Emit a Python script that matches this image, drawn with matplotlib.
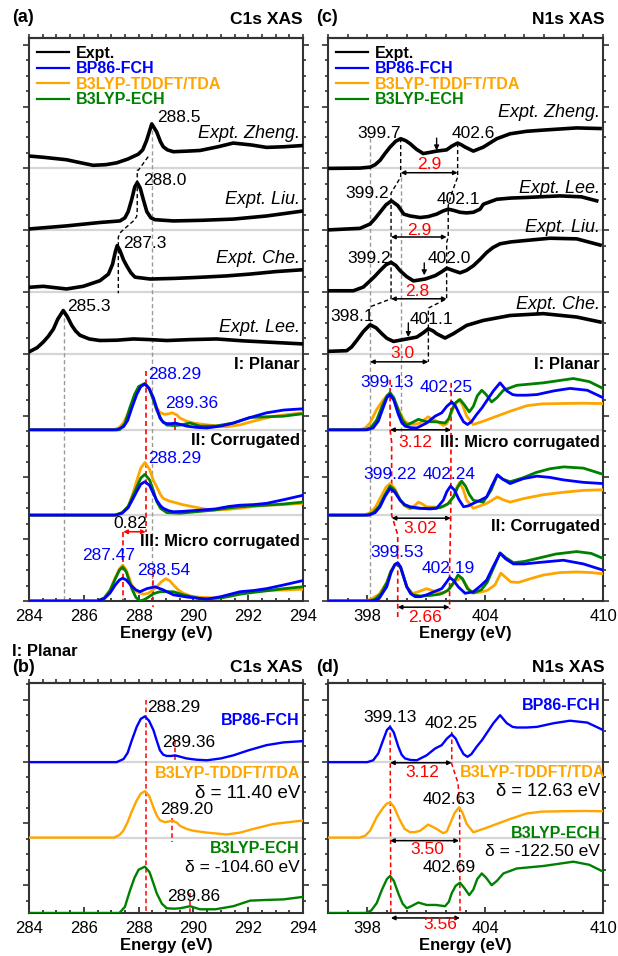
import matplotlib
matplotlib.use('Agg')
import matplotlib.pyplot as plt
import numpy as np
from matplotlib.ticker import MultipleLocator, FixedLocator
from matplotlib.lines import Line2D

plt.rcParams['font.family'] = ['Liberation Sans', 'DejaVu Sans']

BLUE = '#0000ff'
ORANGE = '#ffa500'
GREEN = '#008000'
RED = '#ff0000'
GRAY = '#9a9a9a'

# ---------------- C1s experimental spectra (energy eV, intensity a.u.)
c_zheng_e = [284.0, 284.52, 285.37, 285.9, 286.34, 286.8, 287.2, 287.6, 287.99, 288.15, 288.29, 288.48, 288.66,
             288.8, 288.9, 289.05, 289.27, 289.8, 290.24, 290.9, 291.45, 292.1, 292.67, 293.3, 293.98]
c_zheng_i = [0.20, 0.18, 0.14, 0.09, 0.05, 0.06, 0.09, 0.15, 0.23, 0.30, 0.45, 0.72, 0.59,
             0.43, 0.35, 0.30, 0.27, 0.28, 0.29, 0.35, 0.41, 0.38, 0.34, 0.35, 0.37]
c_liu_e = [284.0, 285.38, 286.59, 287.32, 287.5, 287.62, 287.75, 287.86, 287.95, 288.06, 288.17, 288.3, 288.45,
           288.6, 289.27, 290.3, 291.46, 292.67, 293.99]
c_liu_i = [0.02, 0.07, 0.125, 0.15, 0.2, 0.3, 0.5, 0.7, 0.77, 0.68, 0.5, 0.3, 0.2,
           0.17, 0.15, 0.16, 0.18, 0.23, 0.31]
c_che_e = [284.0, 284.52, 285.37, 285.98, 286.59, 286.9, 287.05, 287.15, 287.22, 287.32, 287.45, 287.57, 287.72,
           287.87, 288.42, 289.3, 290.24, 291.2, 292.07, 293.0, 293.99]
c_che_i = [0.076, 0.092, 0.049, 0.092, 0.183, 0.29, 0.45, 0.65, 0.75, 0.67, 0.52, 0.42, 0.31,
           0.24, 0.21, 0.22, 0.238, 0.26, 0.29, 0.33, 0.36]
c_lee_e = [284.0, 284.3, 284.52, 284.7, 284.89, 285.05, 285.25, 285.4, 285.56, 285.7, 285.86, 286.2, 286.59,
           287.2, 287.81, 288.4, 289.03, 289.9, 290.85, 291.8, 292.67, 293.99]
c_lee_i = [0.03, 0.1, 0.19, 0.28, 0.40, 0.56, 0.70, 0.6, 0.46, 0.37, 0.30, 0.24, 0.215,
           0.22, 0.24, 0.23, 0.215, 0.23, 0.24, 0.21, 0.19, 0.16]

# ---------------- C1s calculated, I: Planar
cp_fch_e = [284.0, 287.2, 287.45, 287.6, 287.75, 287.93, 288.08, 288.23, 288.38, 288.54, 288.66, 288.78, 288.9,
            289.03, 289.2, 289.33, 289.5, 289.75, 290.1, 290.49, 291.0, 291.46, 292.0, 292.67, 293.3, 293.99]
cp_fch_i = [0.0, 0.0, 0.05, 0.15, 0.35, 0.57, 0.70, 0.74, 0.67, 0.52, 0.35, 0.19, 0.12,
            0.10, 0.10, 0.11, 0.09, 0.06, 0.04, 0.03, 0.06, 0.11, 0.19, 0.275, 0.32, 0.34]
cp_tda_e = [284.0, 287.1, 287.3, 287.44, 287.6, 287.75, 287.93, 288.08, 288.23, 288.38, 288.54, 288.66, 288.78,
            288.95, 289.1, 289.23, 289.4, 289.51, 289.75, 290.0, 290.5, 291.21, 291.7, 292.19, 292.92, 293.5, 293.99]
cp_tda_i = [0.0, 0.0, 0.04, 0.11, 0.25, 0.42, 0.60, 0.71, 0.75, 0.68, 0.49, 0.36, 0.28,
            0.25, 0.26, 0.275, 0.24, 0.19, 0.14, 0.11, 0.08, 0.05, 0.08, 0.14, 0.22, 0.25, 0.275]
cp_ech_e = [284.0, 287.3, 287.5, 287.69, 287.85, 288.0, 288.23, 288.4, 288.54, 288.66, 288.85, 289.03, 289.3,
            289.51, 289.88, 290.24, 290.8, 291.46, 292.07, 292.6, 293.28, 293.99]
cp_ech_i = [0.0, 0.0, 0.1, 0.37, 0.57, 0.70, 0.75, 0.66, 0.48, 0.32, 0.15, 0.076, 0.07,
            0.076, 0.11, 0.06, 0.06, 0.11, 0.2, 0.21, 0.22, 0.26]

# ---------------- C1s calculated, II: Corrugated
cc_fch_e = [284.0, 287.15, 287.4, 287.62, 287.8, 287.93, 288.08, 288.23, 288.4, 288.55, 288.66, 288.8, 288.9,
            289.1, 289.27, 289.6, 290.24, 290.8, 291.3, 291.7, 292.2, 292.67, 293.3, 293.99]
cc_fch_i = [0.0, 0.0, 0.03, 0.12, 0.27, 0.38, 0.50, 0.54, 0.48, 0.34, 0.24, 0.15, 0.11,
            0.07, 0.054, 0.06, 0.08, 0.10, 0.14, 0.16, 0.17, 0.19, 0.25, 0.32]
cc_tda_e = [284.0, 287.15, 287.4, 287.62, 287.8, 287.93, 288.08, 288.23, 288.4, 288.55, 288.66, 288.8, 288.9,
            289.1, 289.27, 289.6, 289.99, 290.4, 290.72, 291.2, 291.7, 292.2, 292.67, 293.3, 293.99]
cc_tda_i = [0.0, 0.0, 0.04, 0.14, 0.36, 0.55, 0.76, 0.85, 0.74, 0.55, 0.46, 0.33, 0.27,
            0.23, 0.21, 0.17, 0.135, 0.10, 0.08, 0.09, 0.11, 0.14, 0.16, 0.17, 0.19]
cc_ech_e = [284.0, 287.15, 287.4, 287.62, 287.8, 287.93, 288.08, 288.23, 288.4, 288.55, 288.66, 288.8, 289.03,
            289.5, 290.0, 290.72, 291.2, 291.7, 292.2, 292.67, 293.3, 293.99]
cc_ech_i = [0.0, 0.0, 0.04, 0.14, 0.32, 0.45, 0.60, 0.66, 0.57, 0.38, 0.22, 0.11, 0.04,
            0.03, 0.05, 0.08, 0.11, 0.135, 0.15, 0.16, 0.18, 0.21]

# ---------------- C1s calculated, III: Micro corrugated
cm_fch_e = [284.0, 286.5, 286.75, 286.96, 287.15, 287.3, 287.42, 287.55, 287.75, 287.9, 288.05, 288.3, 288.6,
            288.9, 289.27, 289.75, 290.5, 291.0, 291.7, 292.2, 292.67, 293.3, 293.99]
cm_fch_i = [0.0, 0.0, 0.04, 0.13, 0.26, 0.34, 0.37, 0.34, 0.24, 0.18, 0.15, 0.20, 0.23,
            0.18, 0.10, 0.065, 0.03, 0.07, 0.15, 0.17, 0.20, 0.26, 0.33]
cm_tda_e = [284.0, 286.5, 286.75, 286.96, 287.15, 287.3, 287.42, 287.55, 287.75, 287.9, 288.05, 288.2, 288.35,
            288.5, 288.66, 288.83, 288.99, 289.13, 289.27, 289.45, 289.63, 289.9, 290.24, 290.8, 291.3, 291.7,
            292.2, 292.8, 293.4, 293.99]
cm_tda_i = [0.0, 0.0, 0.05, 0.18, 0.38, 0.52, 0.58, 0.50, 0.26, 0.16, 0.125, 0.11, 0.125,
            0.17, 0.23, 0.31, 0.36, 0.33, 0.26, 0.18, 0.125, 0.08, 0.06, 0.05, 0.07, 0.12,
            0.16, 0.17, 0.18, 0.19]
cm_ech_e = [284.0, 286.5, 286.75, 286.96, 287.15, 287.3, 287.42, 287.55, 287.75, 287.9, 288.05, 288.2, 288.35,
            288.55, 288.78, 289.0, 289.27, 289.63, 290.3, 291.0, 291.7, 292.2, 292.67, 293.3, 293.99]
cm_ech_i = [0.0, 0.0, 0.05, 0.17, 0.36, 0.50, 0.55, 0.47, 0.20, 0.06, 0.0, 0.02, 0.06,
            0.12, 0.15, 0.15, 0.15, 0.10, 0.03, 0.05, 0.11, 0.14, 0.165, 0.20, 0.23]

# ---------------- N1s experimental spectra
n_zheng_e = [396.02, 397.63, 398.14, 398.4, 398.65, 398.9, 399.16, 399.45, 399.7, 399.95, 400.18, 400.5, 400.85,
             401.2, 401.53, 402.04, 402.3, 402.6, 402.8, 402.98, 403.4, 403.91, 404.59, 405.27, 406.1, 406.96,
             408.66, 409.85]
n_zheng_i = [0.0, 0.005, 0.02, 0.06, 0.13, 0.24, 0.345, 0.44, 0.48, 0.45, 0.40, 0.31, 0.24,
             0.26, 0.28, 0.30, 0.36, 0.41, 0.38, 0.345, 0.28, 0.345, 0.48, 0.56, 0.60, 0.62,
             0.655, 0.645]
n_lee_e = [396.02, 397.63, 398.14, 398.4, 398.65, 398.95, 399.23, 399.55, 399.86, 400.18, 400.69, 401.1, 401.53,
           401.85, 402.12, 402.4, 402.72, 403.05, 403.4, 403.74, 403.91, 404.59, 405.3, 406.12, 407.81, 408.9, 409.68]
n_lee_i = [0.005, 0.03, 0.1, 0.19, 0.29, 0.41, 0.475, 0.4, 0.26, 0.23, 0.205, 0.22, 0.26,
           0.31, 0.34, 0.32, 0.29, 0.28, 0.29, 0.34, 0.42, 0.50, 0.52, 0.53, 0.555, 0.54, 0.475]
n_liu_e = [396.02, 397.29, 397.8, 398.14, 398.4, 398.65, 398.95, 399.21, 399.45, 399.67, 400.0, 400.35, 400.95,
           401.46, 401.8, 402.05, 402.35, 402.72, 403.05, 403.4, 403.75, 404.08, 404.4, 404.76, 405.3, 405.95,
           407.3, 408.66, 409.85]
n_liu_i = [0.02, 0.02, 0.08, 0.18, 0.26, 0.345, 0.44, 0.48, 0.43, 0.345, 0.25, 0.18, 0.21,
           0.265, 0.33, 0.385, 0.35, 0.31, 0.35, 0.425, 0.53, 0.64, 0.72, 0.78, 0.81, 0.83,
           0.87, 0.86, 0.76]
n_che_e = [396.02, 396.95, 397.2, 397.46, 397.8, 398.14, 398.45, 398.74, 399.0, 399.33, 400.01, 400.52, 400.85,
           401.11, 401.35, 401.53, 401.96, 402.38, 403.06, 403.91, 405.27, 406.96, 408.66, 409.85]
n_che_i = [0.04, 0.05, 0.11, 0.215, 0.36, 0.47, 0.42, 0.325, 0.25, 0.2, 0.24, 0.27, 0.34,
           0.405, 0.37, 0.325, 0.255, 0.325, 0.46, 0.54, 0.62, 0.65, 0.595, 0.515]

# ---------------- N1s calculated, I: Planar
np_fch_e = [396.0, 398.0, 398.3, 398.56, 398.8, 399.0, 399.16, 399.35, 399.58, 399.75, 399.92, 400.2, 400.52,
            401.02, 401.45, 401.79, 402.05, 402.3, 402.5, 402.69, 402.9, 403.1, 403.3, 403.57, 403.85, 404.08,
            404.42, 404.76, 405.1, 405.4, 405.61, 406.1, 406.63, 407.5, 408.32, 409.2, 410.0]
np_fch_i = [0.0, 0.0, 0.03, 0.14, 0.35, 0.52, 0.57, 0.48, 0.25, 0.12, 0.06, 0.035, 0.03,
            0.11, 0.22, 0.275, 0.38, 0.45, 0.38, 0.25, 0.13, 0.086, 0.13, 0.25, 0.36, 0.47,
            0.63, 0.76, 0.63, 0.57, 0.56, 0.56, 0.57, 0.63, 0.67, 0.64, 0.52]
np_tda_e = [396.0, 397.6, 397.9, 398.14, 398.48, 398.8, 399.0, 399.16, 399.35, 399.67, 399.9, 400.18, 400.45,
            400.69, 401.1, 401.53, 401.87, 402.05, 402.21, 402.45, 402.67, 402.85, 403.06, 403.4, 403.91, 404.59,
            405.27, 406.12, 406.9, 407.81, 409.0, 410.0]
np_tda_i = [0.0, 0.0, 0.03, 0.11, 0.33, 0.48, 0.55, 0.57, 0.50, 0.275, 0.14, 0.086, 0.09,
            0.11, 0.21, 0.14, 0.07, 0.10, 0.22, 0.40, 0.49, 0.40, 0.22, 0.086, 0.14, 0.22,
            0.30, 0.39, 0.42, 0.425, 0.43, 0.425]
np_ech_e = [396.0, 397.9, 398.2, 398.48, 398.75, 399.0, 399.16, 399.35, 399.6, 399.8, 400.01, 400.3, 400.6,
            401.02, 401.5, 401.96, 402.15, 402.3, 402.5, 402.72, 402.95, 403.19, 403.4, 403.6, 403.83, 404.05,
            404.33, 404.6, 404.93, 405.61, 406.96, 408.49, 409.3, 410.0]
np_ech_i = [0.0, 0.0, 0.04, 0.16, 0.38, 0.55, 0.60, 0.52, 0.30, 0.15, 0.076, 0.12, 0.17,
            0.13, 0.13, 0.11, 0.18, 0.32, 0.44, 0.49, 0.40, 0.29, 0.38, 0.55, 0.64, 0.57,
            0.45, 0.52, 0.64, 0.72, 0.76, 0.83, 0.78, 0.67]

# ---------------- N1s calculated, III: Micro corrugated
nm_fch_e = [396.0, 398.1, 398.4, 398.65, 398.9, 399.16, 399.4, 399.67, 399.9, 400.18, 400.69, 401.2, 401.53,
            401.87, 402.05, 402.24, 402.45, 402.65, 402.9, 403.15, 403.4, 403.75, 404.08, 404.35, 404.62, 404.9,
            405.27, 405.6, 405.95, 406.63, 407.3, 407.98, 409.0, 410.0]
nm_fch_i = [0.0, 0.0, 0.04, 0.135, 0.30, 0.43, 0.37, 0.24, 0.17, 0.135, 0.11, 0.10, 0.11,
            0.24, 0.38, 0.47, 0.40, 0.26, 0.135, 0.15, 0.19, 0.24, 0.295, 0.48, 0.65, 0.58,
            0.51, 0.55, 0.59, 0.63, 0.61, 0.57, 0.53, 0.51]
nm_tda_e = [396.0, 397.8, 398.1, 398.4, 398.7, 398.95, 399.16, 399.4, 399.67, 399.9, 400.18, 400.4, 400.6,
            400.8, 401.02, 401.5, 401.87, 402.15, 402.38, 402.55, 402.7, 402.88, 403.06, 403.4, 403.75, 404.08,
            404.35, 404.62, 404.9, 405.27, 406.0, 406.96, 408.0, 409.0, 410.0]
nm_tda_i = [0.0, 0.0, 0.03, 0.12, 0.30, 0.45, 0.51, 0.43, 0.24, 0.15, 0.10, 0.15, 0.21,
            0.18, 0.135, 0.13, 0.135, 0.20, 0.295, 0.45, 0.53, 0.42, 0.24, 0.11, 0.15, 0.19,
            0.24, 0.295, 0.25, 0.21, 0.27, 0.33, 0.37, 0.40, 0.41]
nm_ech_e = [396.0, 398.0, 398.3, 398.6, 398.9, 399.16, 399.4, 399.67, 399.9, 400.2, 400.7, 401.2, 401.7,
            402.1, 402.4, 402.6, 402.8, 403.0, 403.2, 403.4, 403.9, 404.3, 404.62, 404.9, 405.27, 405.9,
            406.6, 407.3, 408.0, 409.0, 410.0]
nm_ech_i = [0.0, 0.0, 0.04, 0.14, 0.33, 0.47, 0.40, 0.25, 0.16, 0.12, 0.11, 0.11, 0.12,
            0.18, 0.30, 0.45, 0.55, 0.47, 0.33, 0.24, 0.21, 0.40, 0.65, 0.58, 0.54, 0.60,
            0.69, 0.75, 0.78, 0.76, 0.66]

# ---------------- N1s calculated, II: Corrugated
nc_fch_e = [396.0, 398.3, 398.6, 398.99, 399.2, 399.4, 399.55, 399.7, 400.01, 400.2, 400.44, 400.7, 401.02,
            401.4, 401.79, 402.0, 402.2, 402.4, 402.63, 402.98, 403.4, 403.75, 404.08, 404.4, 404.76, 405.05,
            405.44, 406.0, 406.63, 407.3, 407.98, 409.0, 410.0]
nc_fch_i = [0.0, 0.0, 0.04, 0.23, 0.45, 0.59, 0.62, 0.55, 0.23, 0.12, 0.07, 0.07, 0.10,
            0.15, 0.20, 0.29, 0.38, 0.33, 0.23, 0.125, 0.15, 0.24, 0.34, 0.55, 0.77, 0.68,
            0.60, 0.60, 0.62, 0.64, 0.66, 0.60, 0.50]
nc_tda_e = [396.0, 397.9, 398.2, 398.6, 398.99, 399.2, 399.4, 399.55, 399.7, 400.01, 400.3, 400.6, 401.02,
            401.4, 401.87, 402.2, 402.5, 402.8, 403.05, 403.3, 403.7, 404.1, 404.5, 404.8, 405.05, 405.3,
            405.7, 406.3, 406.96, 407.8, 408.66, 409.4, 410.0]
nc_tda_i = [0.0, 0.0, 0.03, 0.11, 0.3, 0.48, 0.59, 0.61, 0.55, 0.23, 0.12, 0.15, 0.2,
            0.16, 0.125, 0.2, 0.33, 0.37, 0.25, 0.13, 0.14, 0.17, 0.26, 0.45, 0.38, 0.31,
            0.30, 0.36, 0.42, 0.46, 0.47, 0.46, 0.44]
nc_ech_e = [396.0, 398.1, 398.4, 398.7, 399.0, 399.2, 399.4, 399.55, 399.7, 400.01, 400.3, 400.7, 401.2,
            401.7, 402.1, 402.4, 402.62, 402.85, 403.1, 403.4, 403.8, 404.1, 404.45, 404.76, 405.05, 405.44,
            406.0, 406.8, 407.6, 408.66, 409.4, 410.0]
nc_ech_i = [0.0, 0.0, 0.03, 0.12, 0.3, 0.48, 0.58, 0.6, 0.53, 0.23, 0.1, 0.08, 0.09,
            0.11, 0.17, 0.3, 0.42, 0.36, 0.2, 0.13, 0.18, 0.3, 0.55, 0.78, 0.7, 0.62,
            0.64, 0.7, 0.76, 0.8, 0.77, 0.69]

# stacking offsets of the spectra
off_expt = [7.0, 6.0, 5.0, 4.0]
off_calc = [2.77, 1.39, 0.0]
off_single = [2.44, 1.22, 0.0]

fig = plt.figure(figsize=(6.18, 9.56), dpi=100)
W, H = 618.0, 956.0
ax_a = fig.add_axes([29 / W, 1 - 601 / H, 274 / W, 563 / H])
ax_c = fig.add_axes([328 / W, 1 - 601 / H, 275 / W, 563 / H])
ax_b = fig.add_axes([29 / W, 1 - 913 / H, 274 / W, 230 / H])
ax_d = fig.add_axes([328 / W, 1 - 913 / H, 275 / W, 230 / H])


def style(ax, xlim, ylim, xmaj, xmin, ymaj, ymin):
    ax.set_xlim(*xlim)
    ax.set_ylim(*ylim)
    ax.xaxis.set_major_locator(xmaj)
    ax.xaxis.set_minor_locator(MultipleLocator(xmin))
    ax.yaxis.set_major_locator(FixedLocator(ymaj))
    ax.yaxis.set_minor_locator(FixedLocator(ymin))
    ax.tick_params(axis='x', which='both', direction='in', top=False, labelsize=12, pad=6, colors='#222222')
    ax.tick_params(axis='x', which='major', length=4, width=1.2)
    ax.tick_params(axis='x', which='minor', length=2.5, width=1.2)
    ax.tick_params(axis='y', which='both', direction='out', left=True, right=True, labelleft=False,
                   colors='#333333')
    ax.tick_params(axis='y', which='major', length=4.5, width=1.2)
    ax.tick_params(axis='y', which='minor', length=2.5, width=1.2)
    for sp in ax.spines.values():
        sp.set_linewidth(1.5)
        sp.set_color('#333333')
    sec = ax.secondary_xaxis('top')
    sec.xaxis.set_major_locator(MultipleLocator(xmin))
    sec.tick_params(axis='x', which='both', direction='out', length=3, width=1.2, labeltop=False,
                    colors='#333333')
    sec.spines['top'].set_linewidth(1.5)
    sec.spines['top'].set_color('#333333')
    ax.set_xlabel('Energy (eV)', fontsize=12, fontweight='bold', labelpad=1.5)
    ax.tick_params(axis='x', labelcolor='black')


style(ax_a, (284, 294), (0, 9.11), MultipleLocator(2), 0.5, np.arange(0, 9.5, 1.0), np.arange(0, 9.11, 0.25))
style(ax_c, (396, 410), (0, 9.11), FixedLocator([398, 404, 410]), 1.0, np.arange(0, 9.5, 1.0),
      np.arange(0, 9.11, 0.25))
style(ax_b, (284, 294), (0, 3.72), MultipleLocator(2), 0.5, [0.45, 1.45, 2.45, 3.45],
      np.arange(0.2, 3.72, 0.25))
style(ax_d, (396, 410), (0, 3.72), FixedLocator([398, 404, 410]), 1.0, [0.45, 1.45, 2.45, 3.45],
      np.arange(0.2, 3.72, 0.25))


def baseline(ax, y):
    ax.axhline(y, color='#d6d6d6', lw=1.6, zorder=1)


def dash(ax, xs, ys, color, lw=1.0):
    ax.plot(xs, ys, color=color, lw=lw, dashes=(3, 2), clip_on=False, zorder=2)


def arrow(ax, x1, x2, y, color='black'):
    ax.annotate('', xy=(x2, y), xytext=(x1, y), annotation_clip=False,
                arrowprops=dict(arrowstyle='<|-|>', color=color, lw=1.1, mutation_scale=6,
                                shrinkA=0, shrinkB=0))


def down(ax, x, y1, y2):
    ax.annotate('', xy=(x, y2), xytext=(x, y1),
                arrowprops=dict(arrowstyle='-|>', color='black', lw=1.0, mutation_scale=7,
                                shrinkA=0, shrinkB=0))


def txt(ax, x, y, s, color='black', ha='left', size=12.5, **kw):
    ax.text(x, y, s, color=color, ha=ha, va='center', fontsize=size, clip_on=False, **kw)


def expt(ax, e, i, off):
    ax.plot(e, np.array(i) + off, color='black', lw=2.6, zorder=4, solid_joinstyle='round')


def calc(ax, sets, off, lw=2.0):
    for (e, i), col in zip(sets, [ORANGE, GREEN, BLUE]):
        ax.plot(e, np.array(i) + off, color=col, lw=lw, zorder=4, solid_joinstyle='round')


def legend(ax):
    handles = [Line2D([], [], color=c, lw=1.6) for c in ['black', BLUE, ORANGE, GREEN]]
    ax.legend(handles, ['Expt.', 'BP86-FCH', 'B3LYP-TDDFT/TDA', 'B3LYP-ECH'], loc='upper left',
              bbox_to_anchor=(0.0, 1.0), frameon=False, prop={'weight': 'bold', 'size': 11.5},
              labelcolor=['black', BLUE, ORANGE, GREEN], handlelength=2.0, handletextpad=0.45,
              labelspacing=0.03, borderaxespad=0.0, borderpad=0.5)


# ====================== panel (a)
ax = ax_a
for y in off_expt + off_calc[:2]:
    baseline(ax, y)
expt(ax, c_zheng_e, c_zheng_i, off_expt[0])
expt(ax, c_liu_e, c_liu_i, off_expt[1])
expt(ax, c_che_e, c_che_i, off_expt[2])
expt(ax, c_lee_e, c_lee_i, off_expt[3])
calc(ax, [(cp_tda_e, cp_tda_i), (cp_ech_e, cp_ech_i), (cp_fch_e, cp_fch_i)], off_calc[0])
calc(ax, [(cc_tda_e, cc_tda_i), (cc_ech_e, cc_ech_i), (cc_fch_e, cc_fch_i)], off_calc[1])
calc(ax, [(cm_tda_e, cm_tda_i), (cm_ech_e, cm_ech_i), (cm_fch_e, cm_fch_i)], off_calc[2])
legend(ax)

dash(ax, [288.48, 288.48], [7.73, 0], GRAY)
dash(ax, [285.28, 285.28], [4.69, 0], GRAY)
dash(ax, [288.35, 287.99, 287.95, 287.95, 287.93, 287.81, 287.35, 287.26, 287.26],
     [7.19, 6.97, 6.97, 6.33, 6.22, 6.15, 5.97, 5.89, 4.98], 'black')
dash(ax, [288.26, 288.26], [3.72, 1.12], RED, 1.2)
dash(ax, [287.44, 287.44], [1.12, 0], RED, 1.2)
dash(ax, [288.54, 288.54], [0.47, -0.1], RED, 1.2)
dash(ax, [289.33, 289.33], [2.96, 2.77], RED, 1.2)
arrow(ax, 287.44, 288.26, 1.12, RED)

txt(ax, 293.89, 7.57, 'Expt. Zheng.', ha='right', size=13, style='italic')
txt(ax, 293.89, 6.49, 'Expt. Liu.', ha='right', size=13, style='italic')
txt(ax, 293.89, 5.55, 'Expt. Che.', ha='right', size=13, style='italic')
txt(ax, 293.89, 4.42, 'Expt. Lee.', ha='right', size=13, style='italic')
txt(ax, 288.67, 7.82, '288.5')
txt(ax, 288.16, 6.81, '288.0')
txt(ax, 287.43, 5.79, '287.3')
txt(ax, 285.39, 4.76, '285.3')
txt(ax, 293.89, 3.82, 'I: Planar', ha='right', size=12, weight='bold')
txt(ax, 288.34, 3.66, '288.29', BLUE)
txt(ax, 288.96, 3.19, '289.36', BLUE)
txt(ax, 293.89, 2.6, 'II: Corrugated', ha='right', size=12, weight='bold')
txt(ax, 288.34, 2.3, '288.29', BLUE)
txt(ax, 287.07, 1.25, '0.82')
txt(ax, 293.89, 0.97, 'III: Micro corrugated', ha='right', size=12, weight='bold')
txt(ax, 285.93, 0.73, '287.47', BLUE)
txt(ax, 287.94, 0.49, '288.54', BLUE)

# ====================== panel (c)
ax = ax_c
for y in off_expt + off_calc[:2]:
    baseline(ax, y)
expt(ax, n_zheng_e, n_zheng_i, off_expt[0])
expt(ax, n_lee_e, n_lee_i, off_expt[1])
expt(ax, n_liu_e, n_liu_i, off_expt[2])
expt(ax, n_che_e, n_che_i, off_expt[3])
calc(ax, [(np_tda_e, np_tda_i), (np_ech_e, np_ech_i), (np_fch_e, np_fch_i)], off_calc[0])
calc(ax, [(nm_tda_e, nm_tda_i), (nm_ech_e, nm_ech_i), (nm_fch_e, nm_fch_i)], off_calc[1])
calc(ax, [(nc_tda_e, nc_tda_i), (nc_ech_e, nc_ech_i), (nc_fch_e, nc_fch_i)], off_calc[2])
legend(ax)

dash(ax, [398.14, 398.14], [7.49, 0], GRAY)
dash(ax, [399.7, 399.7], [6.86, 2.6], GRAY)
dash(ax, [399.7, 399.7, 399.21, 399.21, 398.14], [7.49, 6.86, 6.6, 4.89, 4.76], 'black')
dash(ax, [402.6, 402.6, 402.3, 402.12, 402.12, 402.04, 402.04, 401.11, 401.11],
     [7.41, 6.86, 6.6, 6.4, 5.89, 5.8, 4.89, 4.74, 3.87], 'black')
arrow(ax, 399.7, 402.6, 6.93)
arrow(ax, 399.21, 402.04, 5.89)
arrow(ax, 399.21, 402.04, 4.89)
arrow(ax, 398.14, 401.11, 3.87)
down(ax, 401.53, 7.49, 7.29)
down(ax, 400.9, 5.47, 5.27)
down(ax, 400.09, 4.5, 4.27)

dash(ax, [399.16, 399.16, 399.24, 399.24, 399.55, 399.55], [3.58, 2.77, 2.57, 1.39, 1.07, -0.26], RED, 1.2)
dash(ax, [402.27, 402.25, 402.19, 402.19], [3.53, 1.4, 0.5, -0.13], RED, 1.2)
arrow(ax, 399.16, 402.27, 2.77)
arrow(ax, 399.24, 402.25, 1.34)
arrow(ax, 399.55, 402.19, -0.1)

txt(ax, 409.85, 7.9, 'Expt. Zheng.', ha='right', size=13, style='italic')
txt(ax, 409.85, 6.68, 'Expt. Lee.', ha='right', size=13, style='italic')
txt(ax, 409.85, 6.05, 'Expt. Liu.', ha='right', size=13, style='italic')
txt(ax, 409.85, 4.79, 'Expt. Che.', ha='right', size=13, style='italic')
txt(ax, 397.48, 7.57, '399.7')
txt(ax, 402.3, 7.57, '402.6')
txt(ax, 401.17, 7.06, '2.9', RED, ha='center')
txt(ax, 396.87, 6.6, '399.2')
txt(ax, 401.53, 6.49, '402.1')
txt(ax, 400.65, 6.0, '2.9', RED, ha='center')
txt(ax, 396.97, 5.55, '399.2')
txt(ax, 401.09, 5.55, '402.0')
txt(ax, 400.55, 5.0, '2.8', RED, ha='center')
txt(ax, 396.1, 4.6, '398.1')
txt(ax, 400.18, 4.55, '401.1')
txt(ax, 399.77, 4.01, '3.0', RED, ha='center')
txt(ax, 409.85, 3.82, 'I: Planar', ha='right', size=12, weight='bold')
txt(ax, 397.63, 3.53, '399.13', BLUE)
txt(ax, 400.68, 3.45, '402.25', BLUE)
txt(ax, 399.56, 2.57, '3.12', RED)
txt(ax, 409.85, 2.57, 'III: Micro corrugated', ha='right', size=12, weight='bold')
txt(ax, 397.78, 2.04, '399.22', BLUE)
txt(ax, 400.84, 2.04, '402.24', BLUE)
txt(ax, 399.82, 1.18, '3.02', RED)
txt(ax, 409.85, 1.2, 'II: Corrugated', ha='right', size=12, weight='bold')
txt(ax, 398.14, 0.78, '399.53', BLUE)
txt(ax, 400.79, 0.53, '402.19', BLUE)
txt(ax, 400.07, -0.27, '2.66', RED)

# ====================== panel (b)
ax = ax_b
for y in off_single[:2]:
    baseline(ax, y)
ax.plot(cp_fch_e, np.array(cp_fch_i) + off_single[0], color=BLUE, lw=1.7, zorder=4)
ax.plot(cp_tda_e, np.array(cp_tda_i) + off_single[1], color=ORANGE, lw=1.7, zorder=4)
ax.plot(cp_ech_e, np.array(cp_ech_i) + off_single[2], color=GREEN, lw=1.7, zorder=4)
dash(ax, [288.26, 288.26], [3.45, 0], RED, 1.1)
dash(ax, [289.33, 289.33], [2.8, 2.44], RED, 1.1)
dash(ax, [289.23, 289.23], [1.54, 1.15], RED, 1.1)
dash(ax, [289.88, 289.88], [0.32, 0], RED, 1.1)
txt(ax, 288.31, 3.33, '288.29')
txt(ax, 293.89, 3.11, 'BP86-FCH', BLUE, ha='right', size=11.5, weight='bold')
txt(ax, 288.85, 2.75, '289.36')
txt(ax, 293.89, 2.25, 'B3LYP-TDDFT/TDA', ORANGE, ha='right', size=11.5, weight='bold')
txt(ax, 293.89, 1.94, 'δ = 11.40 eV', ha='right', size=13.5)
txt(ax, 288.78, 1.67, '289.20')
txt(ax, 293.89, 1.05, 'B3LYP-ECH', GREEN, ha='right', size=11.5, weight='bold')
txt(ax, 293.89, 0.74, 'δ = -104.60 eV', ha='right')
txt(ax, 289.04, 0.26, '289.86')

# ====================== panel (d)
ax = ax_d
for y in off_single[:2]:
    baseline(ax, y)
ax.plot(np_fch_e, np.array(np_fch_i) + off_single[0], color=BLUE, lw=1.7, zorder=4)
ax.plot(np_tda_e, np.array(np_tda_i) + off_single[1], color=ORANGE, lw=1.7, zorder=4)
ax.plot(np_ech_e, np.array(np_ech_i) + off_single[2], color=GREEN, lw=1.7, zorder=4)
dash(ax, [399.16, 399.2], [3.04, 0], RED, 1.1)
dash(ax, [402.3, 402.3, 402.62, 402.7, 402.72], [2.93, 2.41, 2.1, 1.72, 0], RED, 1.1)
arrow(ax, 399.16, 402.3, 2.43)
arrow(ax, 399.16, 402.67, 1.17)
arrow(ax, 399.2, 402.72, -0.08)
txt(ax, 409.85, 3.35, 'BP86-FCH', BLUE, ha='right', size=11.5, weight='bold')
txt(ax, 397.78, 3.17, '399.13')
txt(ax, 400.94, 3.06, '402.25')
txt(ax, 399.92, 2.27, '3.12', RED)
txt(ax, 410.1, 2.27, 'B3LYP-TDDFT/TDA', ORANGE, ha='right', size=11.5, weight='bold')
txt(ax, 409.85, 1.96, 'δ = 12.63 eV', ha='right', size=13.2)
txt(ax, 400.84, 1.83, '402.63')
txt(ax, 400.18, 1.02, '3.50', RED)
txt(ax, 409.85, 1.28, 'B3LYP-ECH', GREEN, ha='right', size=11.5, weight='bold')
txt(ax, 409.85, 1.0, 'δ = -122.50 eV', ha='right')
txt(ax, 400.84, 0.73, '402.69')
txt(ax, 400.84, -0.19, '3.56', RED)

# ====================== panel titles
fig.text(12 / W, 1 - 18 / H, '(a)', fontsize=13, fontweight='bold', va='center')
fig.text(303 / W, 1 - 20 / H, 'C1s XAS', fontsize=12.5, fontweight='bold', va='center', ha='right')
fig.text(316 / W, 1 - 18 / H, '(c)', fontsize=13, fontweight='bold', va='center')
fig.text(605 / W, 1 - 20 / H, 'N1s XAS', fontsize=12.5, fontweight='bold', va='center', ha='right')
fig.text(12 / W, 1 - 651 / H, 'I: Planar', fontsize=12, fontweight='bold', va='center')
fig.text(12 / W, 1 - 668 / H, '(b)', fontsize=13, fontweight='bold', va='center')
fig.text(303 / W, 1 - 667 / H, 'C1s XAS', fontsize=12.5, fontweight='bold', va='center', ha='right')
fig.text(316 / W, 1 - 668 / H, '(d)', fontsize=13, fontweight='bold', va='center')
fig.text(605 / W, 1 - 667 / H, 'N1s XAS', fontsize=12.5, fontweight='bold', va='center', ha='right')

fig.savefig('out.png', dpi=100)
